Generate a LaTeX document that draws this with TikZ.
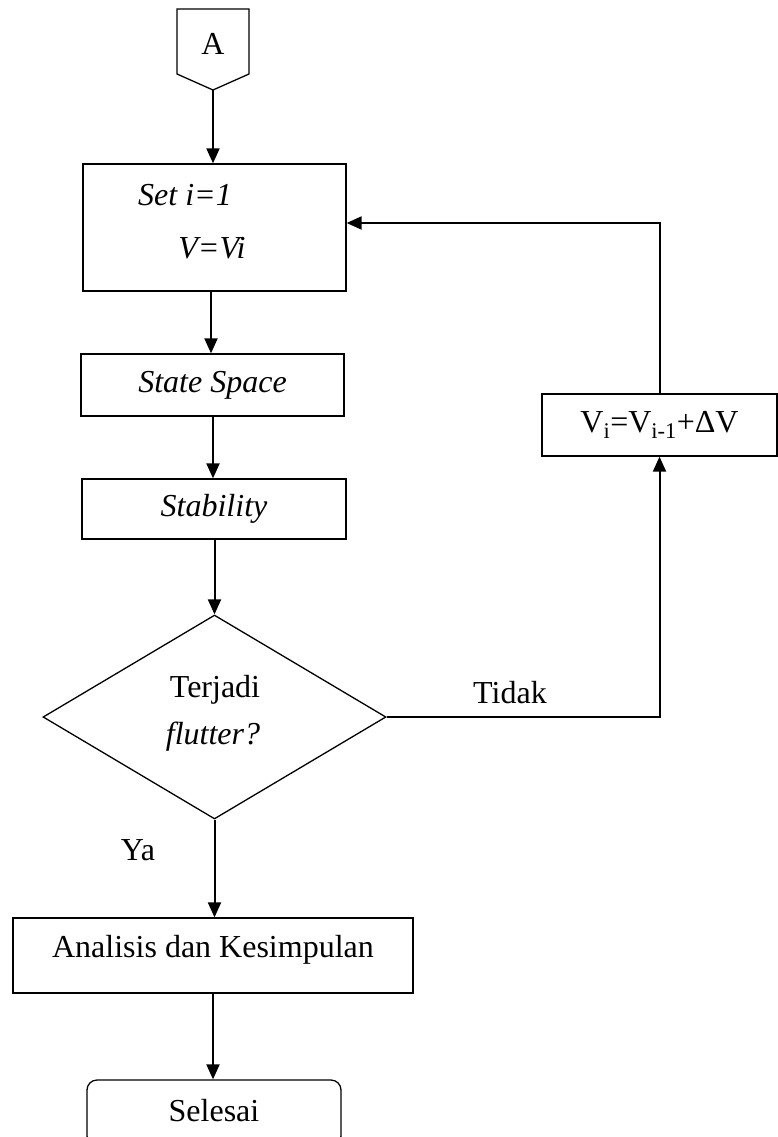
\documentclass[tikz,border=0pt]{standalone}
\usepackage{fontspec}
\setmainfont{Liberation Serif}
\usetikzlibrary{shapes.geometric,arrows.meta}
\begin{document}
\begin{tikzpicture}[x=1pt,y=-1pt,
  box/.style={draw,line width=1.3pt,inner sep=0pt},
  txt/.style={font=\fontsize{32}{38}\selectfont,inner sep=0pt},
  itx/.style={font=\fontsize{32}{38}\selectfont\itshape,inner sep=0pt},
  arr/.style={line width=2pt,-{Triangle[length=15pt,width=13pt]}},
  ln/.style={line width=2pt}]
\useasboundingbox (0,0) rectangle (778,1137);
\clip (0,0) rectangle (778,1137);
% off-page connector A
\draw[line width=1.3pt] (177,9) -- (249,9) -- (249,74) -- (213,90) -- (177,74) -- cycle;
\node[txt] (A) at (213,44) {A};
\coordinate (Abot) at (213,90);
% boxes
\node[box,minimum width=263pt,minimum height=127pt] (set) at (214.5,227.5) {};
\node[itx] (seti) at (185,195) {Set i=1};
\node[itx] (vvi) at (212,248) {V=Vi};
\node[box,minimum width=263pt,minimum height=62pt] (ss) at (212.5,385) {};
\node[itx] at (ss) {State Space};
\node[box,minimum width=264pt,minimum height=60pt] (stab) at (214,509) {};
\node[itx] at (stab) {Stability};
\node[box,diamond,minimum width=343pt,minimum height=204pt] (dia) at (214.5,717) {};
\node[txt] (terj) at (215,690) {Terjadi};
\node[itx] (flut) at (213,737) {flutter?};
\node[box,minimum width=235pt,minimum height=62pt] (vi) at (659.5,425) {};
\node[txt] at (vi) {V\textsubscript{i}=V\textsubscript{i-1}+ΔV};
\node[box,minimum width=400pt,minimum height=75pt] (anal) at (213,955.5) {};
\node[txt] at (213,950) {Analisis dan Kesimpulan};
\node[box,rounded corners=10pt,minimum width=254pt,minimum height=66pt] (sel) at (214,1113) {};
\node[txt] at (214,1111) {Selesai};
% labels
\node[txt] (tidak) at (510,693) {Tidak};
\node[txt] (ya) at (138,850) {Ya};
% connectors
\draw[arr] (Abot) -- (Abot |- set.north);
\draw[arr] (set.south -| 211,0) -- (ss.north -| 211,0);
\draw[arr] (ss.south -| 213,0) -- (stab.north -| 213,0);
\draw[arr] (stab.south -| dia.north) -- (dia.north);
\draw[arr] (dia.east) -| (vi.south);
\coordinate (turn) at (659.5,223);
\draw[arr] (vi.north) -- (turn) -- (set.east |- turn);
\draw[arr] (dia.south) -- (dia.south |- anal.north);
\draw[arr] (anal.south) -- (anal.south |- sel.north);
\end{tikzpicture}
\end{document}
